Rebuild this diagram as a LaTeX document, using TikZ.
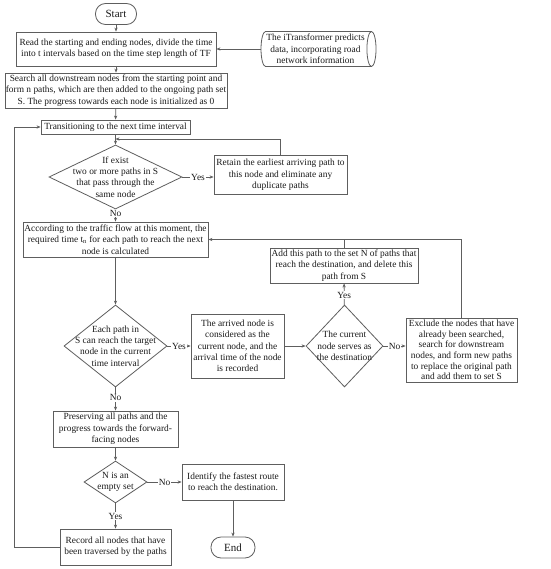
\documentclass[tikz,border=0pt]{standalone}
\usepackage{fontspec}
\setmainfont{Liberation Serif}
\usetikzlibrary{shapes.geometric,arrows.meta}
\definecolor{linec}{HTML}{5E5E5E}
\definecolor{txtc}{HTML}{1A1A1A}
\begin{document}
\begin{tikzpicture}[x=1pt,y=-1pt,
  font=\fontsize{9.4}{11.3}\selectfont, text=txtc,
  box/.style 2 args={draw=linec, line width=0.8pt, align=center, inner sep=0.5pt, minimum width=#1, minimum height=#2},
  dia/.style 2 args={draw=linec, line width=0.8pt, diamond, inner sep=0pt, minimum width=#1, minimum height=#2},
  term/.style 2 args={draw=linec, line width=0.8pt, rounded corners=10pt, inner sep=1pt, minimum width=#1, minimum height=#2, font=\fontsize{11}{12}\selectfont},
  dtext/.style={align=center, inner sep=0pt},
  arr/.style={draw=linec, line width=0.8pt, -{Stealth[length=4pt,width=3.2pt]}},
  ln/.style={draw=linec, line width=0.8pt},
  lbl/.style={fill=white, inner sep=1pt}]
\fill[white] (0,0) rectangle (550,569);
\useasboundingbox (0,0) rectangle (550,569);

\node[term={41pt}{21pt}] (start) at (116,14) {Start};
\node[box={200pt}{34pt}] (b1) at (116,49) {Read the starting and ending nodes, divide the time\\into t intervals based on the time step length of TF};
\node[draw=linec, line width=0.8pt, cylinder, aspect=0.3, minimum height=115pt, minimum width=35pt, inner xsep=0pt, inner ysep=0.5pt, align=center] (cyl) at (315.5,49) {The iTransformer predicts\\data, incorporating road\\network information};
\node[box={222pt}{35pt}] (b2) at (116,90.5) {Search all downstream nodes from the starting point and\\form n paths, which are then added to the ongoing path set\\S. The progress towards each node is initialized as 0};
\node[box={149pt}{14pt}] (b3) at (115.5,127) {Transitioning to the next time interval};
\node[dia={133pt}{64pt}] (d1) at (115.5,177) {};
\node[dtext] (d1t) at (115.5,177) {If exist\\two or more paths in S\\that pass through the\\same node};
\node[box={133pt}{39pt}] (ret) at (280.5,175) {Retain the earliest arriving path to\\this node and eliminate any\\duplicate paths};
\node[box={185pt}{35pt}] (b4) at (115.5,239.5) {According to the traffic flow at this moment, the\\required time t\textsubscript{n} for each path to reach the next\\node is calculated};
\node[box={148pt}{35pt}] (add) at (344,265.5) {Add this path to the set N of paths that\\reach the destination, and delete this\\path from S};
\node[dia={103pt}{82pt}] (d3) at (115.5,346) {};
\node[dtext] (d3t) at (115.5,346) {Each path in\\S can reach the target\\node in the current\\time interval};
\node[box={93pt}{64pt}] (arv) at (237.5,346) {The arrived node is\\considered as the\\current node, and the\\arrival time of the node\\is recorded};
\node[dia={77pt}{82pt}] (d2) at (344.5,346) {};
\node[dtext] (d2t) at (344.5,346) {The current\\node serves as\\the destination};
\node[box={111pt}{64pt}, font=\fontsize{9.4}{10.6}\selectfont] (exc) at (461.5,350) {Exclude the nodes that have\\already been searched,\\search for downstream\\nodes, and form new paths\\to replace the original path\\and add them to set S};
\node[box={125pt}{36pt}] (pre) at (115.5,429) {Preserving all paths and the\\progress towards the forward-\\facing nodes};
\node[dia={63pt}{42pt}] (d4) at (115.5,482) {};
\node[dtext] (d4t) at (115.5,482) {N is an\\empty set};
\node[box={102pt}{36pt}] (idf) at (233,482) {Identify the fastest route\\to reach the destination.};
\node[box={111pt}{36pt}] (rec) at (115.5,547) {Record all nodes that have\\been traversed by the paths};
\node[term={44pt}{21pt}] (end) at (233,547.5) {End};

\coordinate (j1) at (115.5,139);
\coordinate (lp) at (14,127);

\draw[arr] (start) -- (b1);
\draw[arr] (cyl) -- (b1);
\draw[arr] (b1) -- (b2);
\draw[arr] (b2) -- (b3);
\draw[arr] (b3) -- (d1);
\draw[arr] (d1.east) -- node[lbl] {Yes} (ret.west |- d1.east);
\draw[arr] (ret.north) |- (j1);
\draw[arr] (d1) -- node[lbl, pos=0.3] {No} (b4);
\draw[arr] (b4) -- (d3);
\draw[arr] (d3) -- node[lbl] {Yes} (arv);
\draw[arr] (arv) -- (d2);
\draw[arr] (d2) -- node[lbl] {No} (exc.west |- d2.east);
\draw[arr] (d2) -- node[lbl, pos=0.45] {Yes} (add);
\draw[arr] (exc.north) |- (b4.east);
\draw[ln] (add.north) -- (add.north |- b4.east);
\draw[arr] (d3) -- node[lbl, pos=0.45] {No} (pre);
\draw[arr] (pre) -- (d4);
\draw[arr] (d4) -- node[lbl] {No} (idf);
\draw[arr] (d4) -- node[lbl] {Yes} (rec);
\draw[arr] (idf) -- (end);
\draw[arr] (rec.west) -| (lp) -- (b3.west);
\end{tikzpicture}
\end{document}
